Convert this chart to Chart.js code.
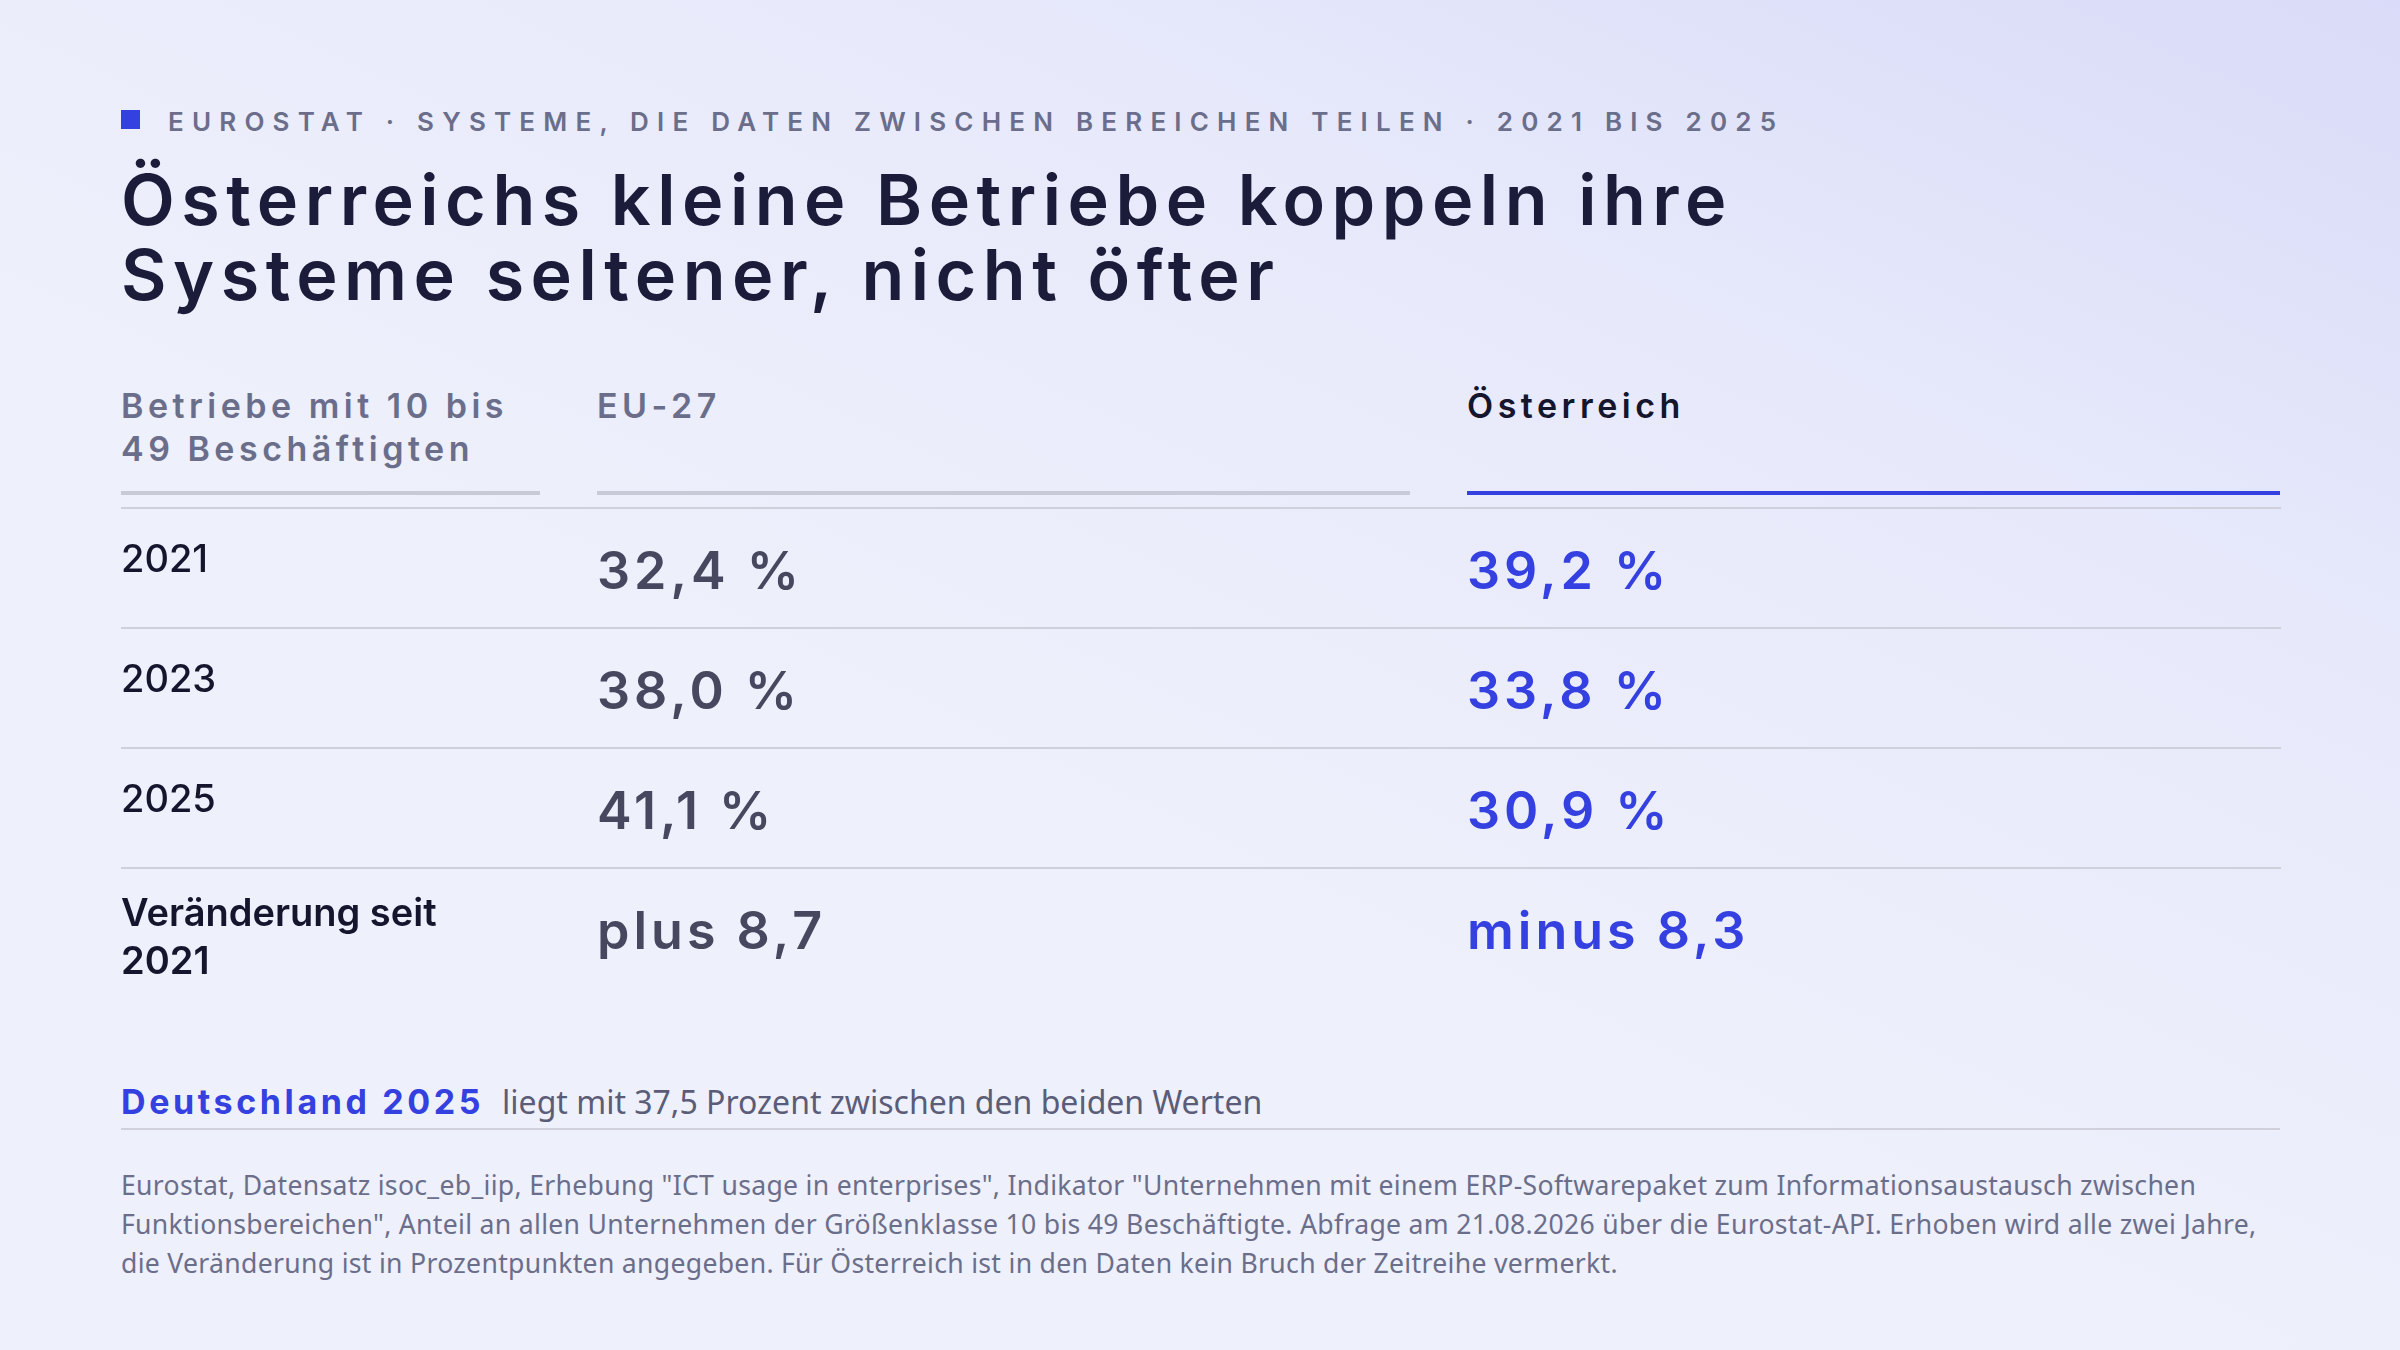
<!DOCTYPE html>
<html><head><meta charset="utf-8">
<script src="https://cdn.jsdelivr.net/npm/chart.js@4"></script>
<style>
body{margin:0;width:2400px;height:1350px;overflow:hidden;font-family:"Noto Sans",sans-serif;
background:linear-gradient(205deg,#d9dbf8 0%,#e8eafb 30%,#eef0fb 60%,#eef0fb 100%);position:relative}
.kicker{position:absolute;left:121px;top:106px;font:600 26px Inter,sans-serif;letter-spacing:8.2px;color:#6b6e8a}
.kicker i{display:inline-block;width:19px;height:19px;background:#3540e0;margin-right:28px;vertical-align:2px}
h1{position:absolute;left:121px;top:162px;margin:0;font:600 70px/75px Inter,sans-serif;letter-spacing:6.5px;color:#1b1b3a}
.hd{position:absolute;top:384px;font:600 34px/43px Inter,sans-serif;letter-spacing:4.5px;color:#6b6e8a}
.ul{position:absolute;top:491px;height:4px;background:#c9cad8}
#wrap{position:absolute;left:121px;top:507px;width:2160px;height:480px}
.de{position:absolute;left:121px;top:1080px;font:32px "Noto Sans",sans-serif;color:#5a5c78}
.de b{font:700 34px Inter,sans-serif;letter-spacing:3.6px;color:#3540e0;margin-right:18px}
.rule{position:absolute;left:121px;width:2159px;top:1128px;height:2px;background:#cfd0dc}
.note{position:absolute;left:121px;top:1166px;width:2150px;font:26.6px/39px "Noto Sans",sans-serif;letter-spacing:0.3px;color:#6b6e8a}
</style></head><body>
<div class="kicker"><i></i>EUROSTAT · SYSTEME, DIE DATEN ZWISCHEN BEREICHEN TEILEN · 2021 BIS 2025</div>
<h1>Österreichs kleine Betriebe koppeln ihre<br>Systeme seltener, nicht öfter</h1>
<div class="hd" style="left:121px">Betriebe mit 10 bis<br>49 Beschäftigten</div>
<div class="hd" style="left:597px">EU-27</div>
<div class="hd" style="left:1467px;color:#15152e">Österreich</div>
<div class="ul" style="left:121px;width:419px"></div>
<div class="ul" style="left:597px;width:813px"></div>
<div class="ul" style="left:1467px;width:813px;background:#3540e0"></div>
<div id="wrap"><canvas id="c"></canvas></div>
<div class="de"><b>Deutschland 2025</b>liegt mit 37,5 Prozent zwischen den beiden Werten</div>
<div class="rule"></div>
<div class="note">Eurostat, Datensatz isoc_eb_iip, Erhebung "ICT usage in enterprises", Indikator "Unternehmen mit einem ERP-Softwarepaket zum Informationsaustausch zwischen Funktionsbereichen", Anteil an allen Unternehmen der Größenklasse 10 bis 49 Beschäftigte. Abfrage am 21.08.2026 über die Eurostat-API. Erhoben wird alle zwei Jahre, die Veränderung ist in Prozentpunkten angegeben. Für Österreich ist in den Daten kein Bruch der Zeitreihe vermerkt.</div>
<script>
var rows = ['2021', '2023', '2025', 'Veränderung seit|2021'];
var euValues = ['32,4 %', '38,0 %', '41,1 %', 'plus 8,7'];
var atValues = ['39,2 %', '33,8 %', '30,9 %', 'minus 8,3'];

var tablePlugin = {
    id: 'table',
    afterDraw: function(chart) {
        var ctx = chart.ctx, y = chart.scales.y, x = chart.scales.x;
        var colEU = x.getPixelForValue(476), colAT = x.getPixelForValue(1346);
        var step = y.getPixelForValue(1) - y.getPixelForValue(0);
        ctx.save();
        // row separators above each row
        ctx.strokeStyle = '#cfd0dc';
        ctx.lineWidth = 2;
        for (var i = 0; i < rows.length; i++) {
            var top = y.getPixelForValue(i) - step / 2;
            ctx.beginPath(); ctx.moveTo(x.left, top + 1); ctx.lineTo(x.right, top + 1); ctx.stroke();
        }
        ctx.textBaseline = 'middle';
        rows.forEach(function(r, i) {
            var cy = y.getPixelForValue(i);
            ctx.fillStyle = '#15152e';
            var parts = r.split('|');
            ctx.font = (parts.length > 1 ? '600 ' : '500 ') + '38px Inter, sans-serif';
            if (parts.length > 1) {
                ctx.fillText(parts[0], x.left, cy - 12);
                ctx.fillText(parts[1], x.left, cy + 36);
            } else {
                ctx.fillText(r, x.left, cy - 6);
            }
            ctx.font = '600 52px Inter, sans-serif';
            ctx.letterSpacing = '4px';
            ctx.fillStyle = '#47475f';
            ctx.fillText(euValues[i], colEU, cy + 6);
            ctx.fillStyle = '#3540e0';
            ctx.fillText(atValues[i], colAT, cy + 6);
            ctx.letterSpacing = '0px';
        });
        ctx.restore();
    }
};

new Chart(document.getElementById('c'), {
    type: 'bar',
    data: { labels: rows, datasets: [{ data: rows.map(function() { return 0; }) }] },
    options: {
        indexAxis: 'y',
        responsive: true,
        maintainAspectRatio: false,
        animation: false,
        layout: { padding: 0 },
        plugins: { legend: { display: false }, tooltip: { enabled: false } },
        scales: {
            x: { display: false, min: 0, max: 2160 },
            y: { display: false }
        }
    },
    plugins: [tablePlugin]
});
</script>
</body></html>
